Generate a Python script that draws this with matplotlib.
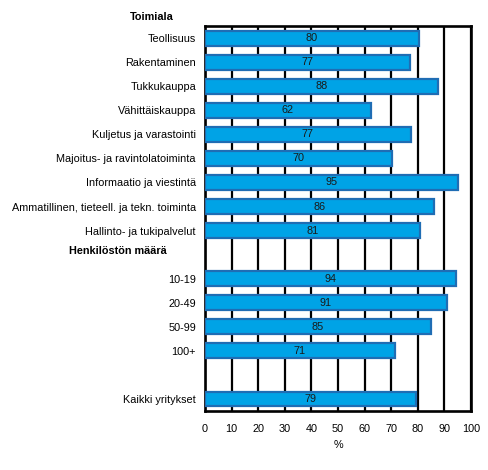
"""Horizontal bar chart of shares by industry and company size."""
import matplotlib
matplotlib.use('Agg')
import matplotlib.pyplot as plt

# Categories top to bottom; '' marks an empty slot
categories = ['Teollisuus', 'Rakentaminen', 'Tukkukauppa', 'Vähittäiskauppa',
              'Kuljetus ja varastointi', 'Majoitus- ja ravintolatoiminta',
              'Informaatio ja viestintä',
              'Ammatillinen, tieteell. ja tekn. toiminta',
              'Hallinto- ja tukipalvelut', '',
              '10-19', '20-49', '50-99', '100+', '', 'Kaikki yritykset']
values = [80.4, 77.1, 87.6, 62.4, 77.4, 70.2, 95.0, 86.0, 80.7, None,
          94.3, 90.8, 84.9, 71.4, None, 79.4]
group_titles = ['Toimiala', 'Henkilöstön määrä']
xticks = list(range(0, 101, 10))

plt.rcParams['font.family'] = ['Liberation Sans', 'DejaVu Sans']
fig = plt.figure(figsize=(4.89, 4.70), dpi=100)
ax = fig.add_axes([0.4192, 0.1255, 0.544, 0.819])

pos = list(range(len(categories)))
for y, v in zip(pos, values):
    if v is None:
        continue
    ax.barh(y, v, height=0.62, color='#00A3E6', edgecolor='#1F6DB4',
            linewidth=1.6, zorder=3)
    ax.text(v / 2, y, f'{v:.0f}', ha='center', va='center',
            fontsize=7.8, color='#1a1a1a', zorder=4)

ax.set_ylim(len(categories) - 0.5, -0.5)
ax.set_xlim(0, 100)
ax.set_yticks(pos)
ax.set_yticklabels(categories, fontsize=7.8)
ax.set_xticks(xticks)
ax.set_xticklabels([str(t) for t in xticks], fontsize=7.8)
ax.tick_params(axis='both', length=0)
ax.tick_params(axis='y', pad=6.5)
ax.tick_params(axis='x', pad=9)
ax.set_xlabel('%', fontsize=7.8, labelpad=5)

# Vertical gridlines behind bars
ax.grid(axis='x', color='black', linewidth=1.6, zorder=0)
ax.set_axisbelow(True)
for s in ax.spines.values():
    s.set_linewidth(1.9)
    s.set_color('black')

# Group headings
ax.text(-0.199, -0.88, group_titles[0], transform=ax.get_yaxis_transform(),
        ha='center', va='center', fontsize=7.8, fontweight='bold')
ax.text(-0.327, 8.85, group_titles[1], transform=ax.get_yaxis_transform(),
        ha='center', va='center', fontsize=7.8, fontweight='bold')

fig.savefig('out.png', dpi=100)
